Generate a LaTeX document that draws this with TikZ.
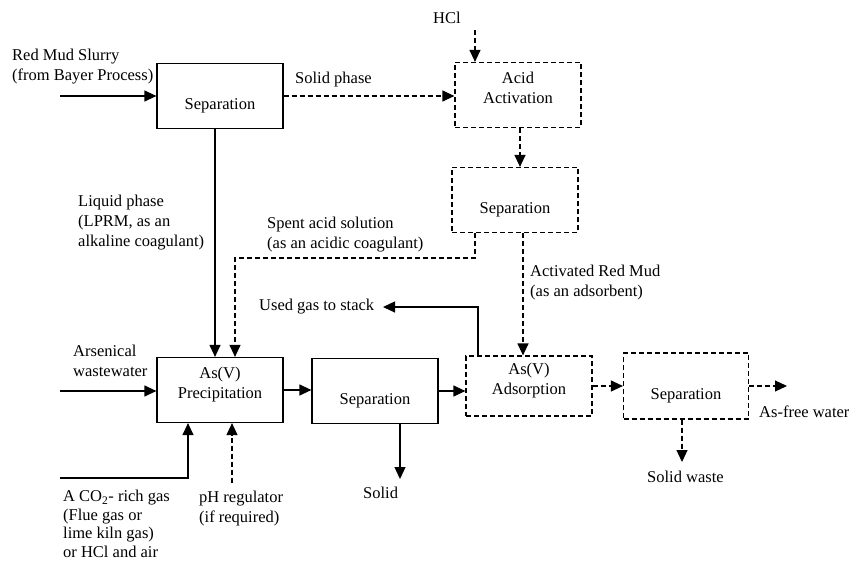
\documentclass[tikz,border=0pt]{standalone}
\usepackage{fontspec}
\setmainfont{Liberation Serif}
\usepackage{tikz}
\usetikzlibrary{arrows.meta,positioning}
\newcommand{\flowfont}{\fontsize{16.5}{20}\selectfont}

\begin{document}
\begin{tikzpicture}[x=1pt,y=-1pt,
  blk/.style={draw,line width=1.2pt,minimum width=126pt,minimum height=65pt,font=\flowfont,align=center,inner sep=0pt},
  dblk/.style={blk,dash pattern=on 5pt off 3pt},
  lone/.style={text height=30pt,text depth=3pt},
  ltwo/.style={text depth=15pt},
  ar/.style={line width=1.2pt,-{Triangle[length=12pt,width=11pt]}},
  dar/.style={ar,dash pattern=on 5pt off 3pt},
  lbl/.style={font=\flowfont,align=left,inner sep=0pt,anchor=north west}]
\useasboundingbox (0,0) rectangle (849,564);
% process boxes
\node[blk,lone]  (sepa) at (220,96)  {Separation};
\node[dblk,ltwo] (acid) at (518,95)  {Acid\\Activation};
\node[dblk,lone] (sepb) at (515,200) {Separation};
\node[blk,ltwo]  (prec) at (220,390) {As(V)\\Precipitation};
\node[blk,lone]  (sepc) at (375,391) {Separation};
\node[dblk,ltwo,minimum height=60pt] (adso) at (529,386) {As(V)\\Adsorption};
\node[dblk,lone,minimum width=125pt,minimum height=66pt] (sepd) at (686,386) {Separation};
% free ends
\coordinate (rms)   at (60,96);
\coordinate (hcl)   at (475,30);
\coordinate (spent) at (235,258);
\coordinate (asw)   at (60,391);
\coordinate (co2)   at (60,478);
\coordinate (ph)    at (232,483);
\coordinate (solid) at (400,479);
\coordinate (gas)   at (383,307);
\coordinate (water) at (787,386);
\coordinate (sw)    at (682,462);
% labels
\node[lbl] (rmsl)   at (12,49)   {Red Mud Slurry\\(from Bayer Process)};
\node[lbl] (solph)  at (295,72)  {Solid phase};
\node[lbl] (hcll)   at (433,12)  {HCl};
\node[lbl] (liqph)  at (78,195)  {Liquid phase\\(LPRM, as an\\alkaline coagulant)};
\node[lbl] (spentl) at (267,217) {Spent acid solution\\(as an acidic coagulant)};
\node[lbl] (actl)   at (530,265) {Activated Red Mud\\(as an adsorbent)};
\node[lbl] (gasl)   at (259,299) {Used gas to stack};
\node[lbl] (aswl)   at (73,345)  {Arsenical\\wastewater};
\node[lbl,font=\fontsize{16.5}{18.5}\selectfont] (co2l) at (63,490) {A CO\textsubscript{2}- rich gas\\(Flue gas or\\lime kiln gas)\\or HCl and air};
\node[lbl] (phl)    at (199,491) {pH regulator\\(if required)};
\node[lbl] (solidl) at (363,487) {Solid};
\node[lbl] (waterl) at (759,406) {As-free water};
\node[lbl] (swl)    at (647,471) {Solid waste};
% flows
\draw[ar]  (rms) -- (rms -| sepa.west);
\draw[dar] (sepa.east) -- (sepa.east -| acid.west);
\draw[dar] (hcl) -- (hcl |- acid.north);
\draw[dar] ([xshift=2pt]acid.south) -- ([xshift=2pt]acid.south |- sepb.north);
\draw[dar] ([xshift=-40pt]sepb.south) |- (spent) -- (spent |- prec.north);
\draw[dar] ([xshift=8pt]sepb.south) -- ([xshift=8pt]sepb.south |- adso.north);
\draw[ar]  ([xshift=-5pt]sepa.south) -- ([xshift=-5pt]prec.north);
\draw[ar]  (asw) -- (asw -| prec.west);
\draw[ar]  (co2) -| ([xshift=-32pt]prec.south);
\draw[dar] (ph) -- (ph |- prec.south);
\draw[ar]  (prec.east) -- (prec.east -| sepc.west);
\draw[ar]  (solid |- sepc.south) -- (solid);
\draw[ar]  (sepc.east) -- (sepc.east -| adso.west);
\draw[ar]  ([xshift=-51pt]adso.north) |- (gas);
\draw[dar] (adso.east) -- (adso.east -| sepd.west);
\draw[dar] (sepd.east) -- (water);
\draw[dar] (sw |- sepd.south) -- (sw);
\end{tikzpicture}
\end{document}
